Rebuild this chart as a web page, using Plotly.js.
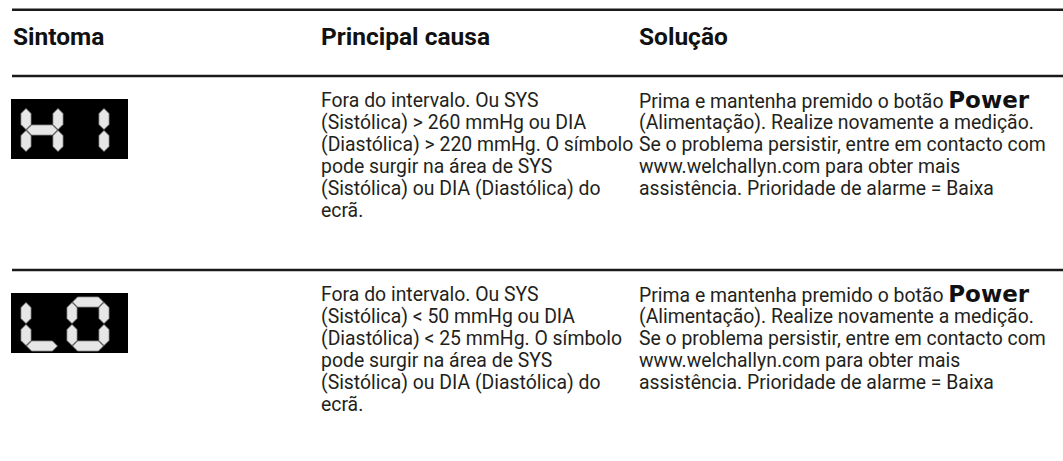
<!DOCTYPE html>
<html><head><meta charset="utf-8">
<script src="https://cdn.plot.ly/plotly-3.0.1.min.js"></script>
<style>html,body{margin:0;padding:0;background:#fff}#chart{width:1063px;height:461px}</style>
</head><body><div id="chart"></div>
<script>
// ---- table content ----
const headers = ["Sintoma", "Principal causa", "Solução"];
const symptomCodes = ["HI", "LO"];
const causes = [
  ["Fora do intervalo. Ou SYS", "(Sistólica) &gt; 260 mmHg ou DIA", "(Diastólica) &gt; 220 mmHg. O símbolo", "pode surgir na área de SYS", "(Sistólica) ou DIA (Diastólica) do", "ecrã."],
  ["Fora do intervalo. Ou SYS", "(Sistólica) &lt; 50 mmHg ou DIA", "(Diastólica) &lt; 25 mmHg. O símbolo", "pode surgir na área de SYS", "(Sistólica) ou DIA (Diastólica) do", "ecrã."]
];
const solutionLead = ["Prima e mantenha premido o botão ", "Prima e mantenha premido o botão "];
const solutionKey = ["Power", "Power"];
const solutions = [
  ["(Alimentação). Realize novamente a medição.", "Se o problema persistir, entre em contacto com", "www.welchallyn.com para obter mais", "assistência. Prioridade de alarme = Baixa"],
  ["(Alimentação). Realize novamente a medição.", "Se o problema persistir, entre em contacto com", "www.welchallyn.com para obter mais", "assistência. Prioridade de alarme = Baixa"]
];
const sevenSegment = {H: "bcefg", I: "bc", L: "def", O: "abcdef"};

// ---- layout geometry ----
const W = 1063, H = 461;
const colX = [12, 320, 638];
const FS = 19.4, HFS = 24.5, STEP = 22, KFS = 23;
const rowTop = [76, 270];
const ruleY = [9.7, 76, 270];
const headerBase = 45;
const firstBase = 31.5;
const textColor = "#231f20";
const bodyFont = {family: "Roboto, 'Liberation Sans', sans-serif", size: FS, color: textColor, weight: 400};
const headFont = {family: "Roboto, 'Liberation Sans', sans-serif", size: HFS, color: "#111", weight: 700};

const annotations = [], shapes = [];
function addText(x, yc, text, font) {
  annotations.push({x: x, y: yc, xref: "x", yref: "y", xanchor: "left", yanchor: "middle",
    text: text, showarrow: false, font: font, align: "left", borderpad: 0});
}
// headers
headers.forEach((h, i) => addText(colX[i], headerBase - 0.342 * HFS, h, headFont));
// rules
ruleY.forEach(y => shapes.push({type: "line", xref: "x", yref: "y", x0: 12, x1: W, y0: y, y1: y,
  line: {color: "#1a1a1a", width: 2.5}}));

// seven segment icon
function segPath(x1, y1, x2, y2, t, g) {
  const h = t / 2;
  let p;
  if (y1 === y2) {
    const a = x1 + g, b = x2 - g, y = y1;
    p = [[a, y], [a + h, y - h], [b - h, y - h], [b, y], [b - h, y + h], [a + h, y + h]];
  } else {
    const a = y1 + g, b = y2 - g, x = x1;
    p = [[x, a], [x + h, a + h], [x + h, b - h], [x, b], [x - h, b - h], [x - h, a + h]];
  }
  return "M" + p.map(q => q[0].toFixed(2) + "," + q[1].toFixed(2)).join("L") + "Z";
}
function addDigit(ch, x0, y0, w, h, t) {
  const L = x0 + t / 2, R = x0 + w - t / 2, T = y0 + t / 2, M = y0 + h / 2, B = y0 + h - t / 2;
  const defs = {a: [L, T, R, T], b: [R, T, R, M], c: [R, M, R, B], d: [L, B, R, B],
                e: [L, M, L, B], f: [L, T, L, M], g: [L, M, R, M]};
  (sevenSegment[ch] || "").split("").forEach(s => {
    const d = defs[s];
    shapes.push({type: "path", xref: "x", yref: "y", path: segPath(d[0], d[1], d[2], d[3], t, 0.6),
      fillcolor: "#e6e6e6", line: {color: "#8a8a8a", width: 0.8}});
  });
}

symptomCodes.forEach((code, r) => {
  const boxTop = rowTop[r] + 23;
  shapes.push({type: "rect", xref: "x", yref: "y", x0: 11, x1: 128, y0: boxTop, y1: boxTop + 60,
    fillcolor: "#000", line: {width: 0}});
  const digitX = [21, 67];
  code.split("").forEach((ch, k) => addDigit(ch, digitX[k], boxTop + 4, 42, 54, 10));

  const base0 = rowTop[r] + firstBase;
  causes[r].forEach((line, i) => addText(colX[1], base0 + i * STEP - 0.342 * FS, line, bodyFont));
  const lead = solutionLead[r] + "<span style=\"font-family:DejaVu Sans;font-weight:bold;font-size:" + KFS + "px;color:#111\">" + solutionKey[r] + "</span>";
  addText(colX[2], base0 - 7.9, lead, bodyFont);
  solutions[r].forEach((line, i) => addText(colX[2], base0 + (i + 1) * STEP - 0.342 * FS, line, bodyFont));
});

const layout = {
  width: W, height: H, margin: {l: 0, r: 0, t: 0, b: 0},
  paper_bgcolor: "#fff", plot_bgcolor: "#fff", showlegend: false,
  xaxis: {range: [0, W], visible: false, fixedrange: true},
  yaxis: {range: [H, 0], visible: false, fixedrange: true},
  annotations: annotations, shapes: shapes
};
Plotly.newPlot("chart", [{x: [], y: [], type: "scatter", hoverinfo: "skip"}], layout, {displayModeBar: false, staticPlot: true});
</script></body></html>
